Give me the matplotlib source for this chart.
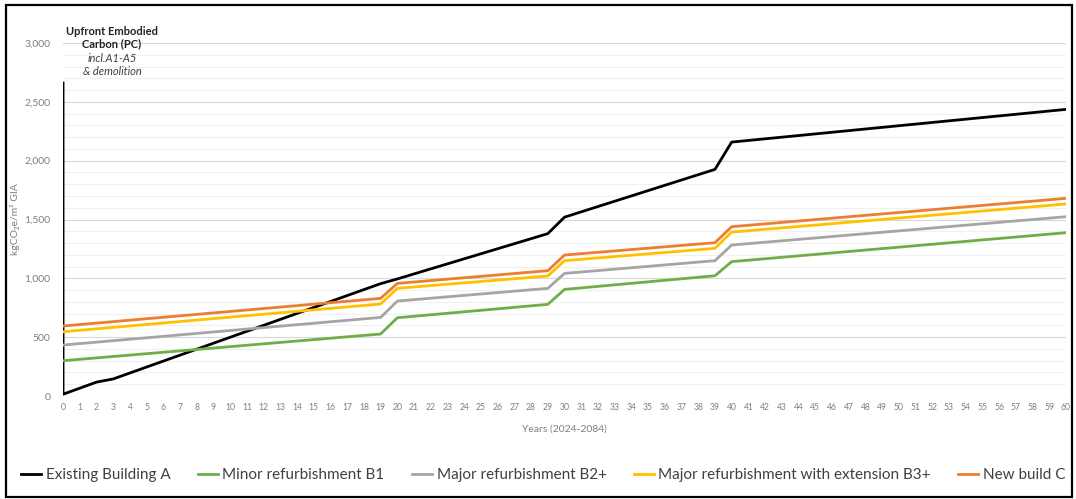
import numpy as np
import matplotlib.pyplot as plt
from matplotlib.patches import Rectangle

plt.rcParams['font.family'] = ['Lato', 'DejaVu Sans']

# data (kgCO2e/m2 GIA)
years_a = [0, 0, 2, 3, 19, 20, 29, 30, 39, 40, 60]
existing_a = [2660, 15, 118, 145, 955, 995, 1380, 1520, 1926, 2158, 2436]

years_b = [0, 19, 20, 29, 30, 39, 40, 60]
minor_b1 = [300, 527, 665, 779, 906, 1022, 1142, 1388]
major_b2 = [433, 668, 807, 915, 1042, 1150, 1283, 1524]
major_b3 = [546, 782, 915, 1020, 1150, 1255, 1393, 1632]
new_c = [595, 830, 957, 1065, 1198, 1303, 1439, 1680]

series = [
    ("Existing Building A", years_a, existing_a, "#000000"),
    ("Minor refurbishment B1", years_b, minor_b1, "#70ad47"),
    ("Major refurbishment B2+", years_b, major_b2, "#a5a5a5"),
    ("Major refurbishment with extension B3+", years_b, major_b3, "#ffc000"),
    ("New build C", years_b, new_c, "#ed7d31"),
]

grey = "#7f7f7f"


def main():
    fig = plt.figure(figsize=(10.76, 4.99), dpi=100)
    ax = fig.add_axes([0.0586, 0.2064, 0.9321, 0.7074])

    # light gridlines every 100, slightly darker every 500
    for v in range(100, 3001, 100):
        c = "#d9d9d9" if v % 500 == 0 else "#f0f0f0"
        ax.axhline(v, color=c, lw=0.8, zorder=0)
    ax.axhline(0, color="#d9d9d9", lw=0.8, zorder=0)

    handles = []
    for name, xs, ys, col in series:
        h, = ax.plot(xs, ys, color=col, lw=2.0, label=name, zorder=3)
        handles.append(h)

    ax.set_xlim(0, 60)
    ax.set_ylim(0, 3000)
    ax.set_xticks(np.arange(0, 61, 1))
    ax.set_yticks(np.arange(0, 3001, 500))
    ax.set_yticklabels([f"{v:,}" for v in range(0, 3001, 500)])
    ax.tick_params(axis="x", labelsize=6.2, colors=grey, length=0, pad=5)
    ax.tick_params(axis="y", labelsize=7.5, colors=grey, length=0, pad=9)
    for s in ax.spines.values():
        s.set_visible(False)

    ax.set_xlabel("Years (2024-2084)", fontsize=7.5, color=grey, labelpad=9)
    ax.set_ylabel("kgCO₂e/m² GIA", fontsize=7.5, color=grey)
    ax.yaxis.set_label_coords(-0.043, 0.5)

    fig.text(0.104, 0.925, "Upfront Embodied\nCarbon (PC)", ha="center", va="center",
             fontsize=8, fontweight="bold", color="#222222", linespacing=1.15)
    fig.text(0.104, 0.87, "incl.A1-A5\n& demolition", ha="center", va="center",
             fontsize=8, style="italic", color="#404040", linespacing=1.15)

    fig.legend(handles=handles, loc="center", bbox_to_anchor=(0.505, 0.048), ncol=5,
               frameon=False, fontsize=11, handlelength=1.3, handletextpad=0.3,
               columnspacing=1.8, labelcolor="#404040")

    fig.patches.append(Rectangle((0.006, 0.004), 0.990, 0.985, transform=fig.transFigure,
                                 fill=False, ec="black", lw=1.6))

    fig.savefig("out.png", dpi=100, facecolor="white")


if __name__ == "__main__":
    main()
